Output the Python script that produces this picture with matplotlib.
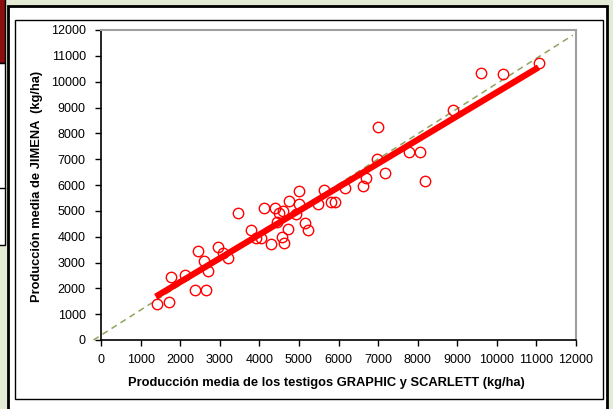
import numpy as np
import matplotlib.pyplot as plt
from matplotlib.patches import Rectangle

W, H = 613, 409

# producción media de los testigos (x) y de JIMENA (y), kg/ha
testigos = [1410, 1720, 1775, 2130, 2370, 2645, 2445, 2610, 2710, 2945,
            3075, 3200, 3455, 3795, 3910, 4050, 4300, 4130, 4400, 4500,
            4600, 4445, 4565, 4630, 4720, 4920, 5010, 5165, 5220, 4752,
            4995, 5493, 5645, 5815, 5900, 6165, 6620, 6695, 6970, 6994,
            7163, 7770, 8064, 8174, 8890, 9589, 10162, 11054]
jimena = [1390, 1480, 2450, 2515, 1930, 1940, 3440, 3060, 2670, 3590,
          3380, 3190, 4910, 4260, 3936, 3936, 3703, 5100, 5100, 4905,
          5006, 4560, 3985, 3755, 4310, 4866, 5253, 4518, 4259, 5393,
          5775, 5265, 5815, 5330, 5330, 5885, 5968, 6260, 7019, 8258,
          6453, 7278, 7278, 6167, 8916, 10348, 10298, 10724]

# recta de regresión y línea de referencia
fit_x = [1382, 11054]
fit_y = [1677, 10555]
ref_x = [-190, 11920]
ref_y = [0, 11800]

ticks = list(range(0, 12001, 1000))

xlabel = "Producción media de los testigos GRAPHIC y SCARLETT (kg/ha)"
ylabel = "Producción media de JIMENA  (kg/ha)"

plt.rcParams["font.family"] = ["Liberation Sans", "DejaVu Sans"]


def frac_rect(x0, y0, x1, y1, **kw):
    return Rectangle((x0 / W, 1 - y1 / H), (x1 - x0) / W, (y1 - y0) / H,
                     transform=fig.transFigure, zorder=-1, **kw)


fig = plt.figure(figsize=(W / 100, H / 100), dpi=100, facecolor="#e3ebd5")

# marcos de la página
fig.add_artist(frac_rect(-2, -2, 5, 63, facecolor="#8b0d0d",
                         edgecolor="black", lw=1))
fig.add_artist(frac_rect(-2, 63, 5, 245, facecolor="white",
                         edgecolor="black", lw=1))
fig.add_artist(plt.Line2D([0, 5 / W], [1 - 188 / H, 1 - 188 / H],
                          transform=fig.transFigure, color="black", lw=1,
                          zorder=-1))
fig.add_artist(frac_rect(8, 6, 607, 420, facecolor="white",
                         edgecolor="black", lw=2))
fig.add_artist(frac_rect(15, 20, 603, 399, facecolor="white",
                         edgecolor="black", lw=1))

ax = fig.add_axes([101 / W, 1 - 340 / H, 475 / W, 310 / H])
ax.set_zorder(5)
ax.set_facecolor("white")

ax.plot(ref_x, ref_y, linestyle=(0, (4, 3)), color="#8ea55c", lw=1.1,
        clip_on=False, zorder=2)
ax.plot(testigos, jimena, linestyle="none", marker="o", markersize=7.5,
        markerfacecolor="none", markeredgecolor="#ff0000",
        markeredgewidth=1.0, zorder=3)
ax.plot(fit_x, fit_y, color="#ff0000", lw=4.5, solid_capstyle="butt",
        zorder=4)

ax.set_xlim(0, 12000)
ax.set_ylim(0, 12000)
ax.set_xticks(ticks)
ax.set_yticks(ticks)
ax.tick_params(direction="out", length=4, width=1, labelsize=9,
               colors="black", top=False, right=False)
ax.tick_params(axis="y", pad=7)
ax.tick_params(axis="x", pad=6)

for side in ["left", "bottom"]:
    ax.spines[side].set_color("black")
    ax.spines[side].set_linewidth(1.2)
for side in ["top", "right"]:
    ax.spines[side].set_color("#a0a0a0")
    ax.spines[side].set_linewidth(1.5)

fig.text(326 / W, 1 - 383 / H, xlabel, ha="center", va="center",
         fontsize=9.3, fontweight="bold", zorder=6)
fig.text(37 / W, 1 - 186 / H, ylabel, ha="center", va="center",
         rotation=90, fontsize=9.3, fontweight="bold", zorder=6)

fig.savefig("out.png", dpi=100, facecolor=fig.get_facecolor())
